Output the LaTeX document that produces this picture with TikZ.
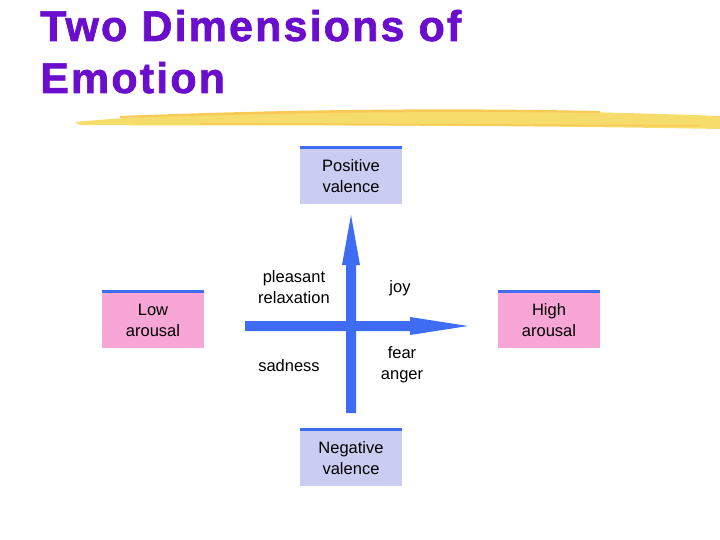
\documentclass[tikz,border=0pt]{standalone}
\usepackage{fontspec}
\setmainfont{Liberation Sans}
\newfontfamily\ttlfont[LetterSpace=5,FakeBold=1.5]{Liberation Sans}
\definecolor{ttl}{HTML}{6A0DCC}
\definecolor{brush}{HTML}{F6DC6A}
\definecolor{arr}{HTML}{3E6CF2}
\definecolor{lav}{HTML}{CACCF2}
\definecolor{pnk}{HTML}{F8A6D6}
\definecolor{bar}{HTML}{3E6CF2}
\begin{document}
\begin{tikzpicture}[x=1pt,y=-1pt,
  lab/.style={font=\fontsize{16.5}{21}\selectfont,align=center,text=black},
  box/.style={minimum width=102pt,minimum height=56pt,inner sep=0pt,align=center,font=\fontsize{16.5}{21}\selectfont}]
\useasboundingbox (0,0) rectangle (720,540);
\node[anchor=base west,text=ttl,font=\ttlfont\bfseries\fontsize{43}{46}\selectfont,inner sep=0] (t1) at (40,41) {Two Dimensions of};
\node[anchor=base west,text=ttl,font=\ttlfont\bfseries\fontsize{43}{46}\selectfont,inner sep=0] (t2) at (40,93) {Emotion};
\fill[brush] (75,122) .. controls (200,110) and (450,106) .. (720,116) -- (720,129) .. controls (450,124) and (200,126) .. (80,125) -- cycle;
\fill[brush!80!orange] (120,116) .. controls (300,109) and (450,108) .. (600,111) -- (600,113) .. controls (450,111) and (300,112) .. (120,118) -- cycle;
\fill[brush!80!orange] (200,123) -- (700,125) -- (700,126.5) -- (200,124.5) -- cycle;
\foreach \n/\x/\y/\c/\t in {pv/351/176/lav/{Positive\\valence},la/153/320/pnk/{Low\\arousal},ha/549/320/pnk/{High\\arousal},nv/351/458/lav/{Negative\\valence}}{
  \node[box,fill=\c] (\n) at (\x,\y) {\t};
  \draw[bar,line width=3pt] (\n.north west) -- (\n.north east);
}
\fill[arr] (346,413) -- (346,265) -- (342,265) -- (351,215) -- (360,265) -- (356,265) -- (356,413) -- cycle;
\fill[arr] (245,321) -- (410,321) -- (410,317) -- (468,326) -- (410,335) -- (410,331) -- (245,331) -- cycle;
\node[lab] (pr) at (294,287) {pleasant\\relaxation};
\node[lab] (jy) at (400,288) {joy};
\node[lab] (sd) at (289,366) {sadness};
\node[lab] (fa) at (402,365) {fear\\anger};
\end{tikzpicture}
\end{document}
